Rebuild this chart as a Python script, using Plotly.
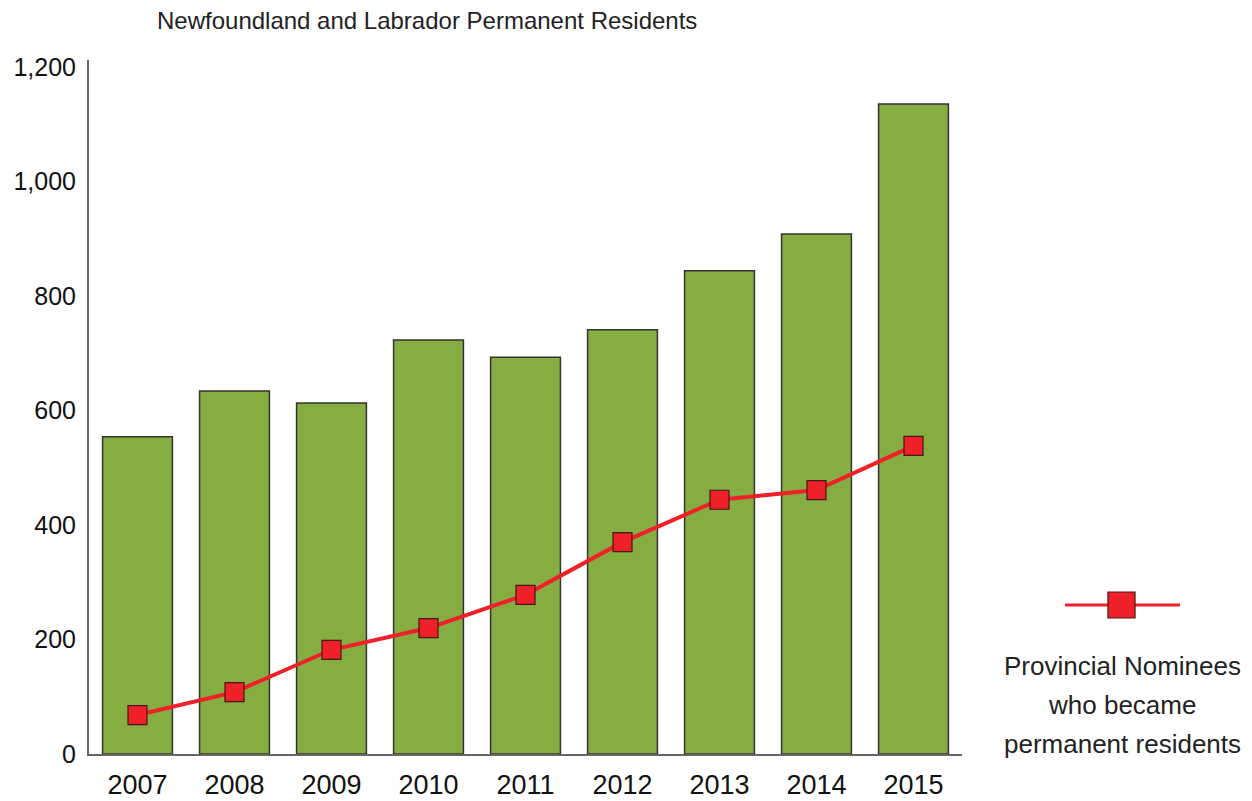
import plotly.graph_objects as go

years = ["2007", "2008", "2009", "2010", "2011", "2012", "2013", "2014", "2015"]
permanent_residents = [554, 634, 613, 723, 693, 741, 844, 908, 1135]
provincial_nominees = [68, 108, 182, 220, 278, 370, 444, 461, 538]
y_ticks = [0, 200, 400, 600, 800, 1000, 1200]
y_tick_labels = ["0", "200", "400", "600", "800", "1,000", "1,200"]
legend_lines = ["Provincial Nominees", "who became", "permanent residents"]

FONT = "Liberation Sans, Arial, sans-serif"
GREEN = "#86AD41"
RED = "#EE2129"

fig = go.Figure()
fig.add_trace(go.Bar(
    x=years, y=permanent_residents, width=0.72,
    marker=dict(color=GREEN, line=dict(color="#333333", width=1.5)),
    showlegend=False, hoverinfo="x+y",
))
fig.add_trace(go.Scatter(
    x=years, y=provincial_nominees, mode="lines+markers",
    line=dict(color=RED, width=4),
    marker=dict(symbol="square", size=19, color=RED, line=dict(color="#4a1515", width=1.2)),
    showlegend=False,
))

# legend drawn manually (symbol above text)
fig.add_shape(type="line", xref="paper", yref="paper",
              x0=1.118, x1=1.2497, y0=0.2147, y1=0.2147,
              line=dict(color=RED, width=3))
fig.add_shape(type="rect", xref="paper", yref="paper",
              x0=1.1672, x1=1.1982, y0=0.196, y1=0.2334,
              fillcolor=RED, line=dict(color="#4a1515", width=1.2))
for txt, yy in zip(legend_lines, [0.1268, 0.0706, 0.0144]):
    fig.add_annotation(xref="paper", yref="paper", x=1.1833, y=yy,
                       xanchor="center", yanchor="middle",
                       text=txt, showarrow=False,
                       font=dict(family=FONT, size=26, color="#222222"))

fig.update_layout(
    width=1244, height=793,
    margin=dict(l=81, r=290, t=52, b=47, autoexpand=False),
    paper_bgcolor="white", plot_bgcolor="white",
    title=dict(text="Newfoundland and Labrador Permanent Residents",
               x=149/1244, xanchor="left", y=1 - 13/793, yanchor="middle",
               font=dict(family=FONT, size=24, color="#222222")),
    font=dict(family=FONT, size=26, color="#111111"),
    xaxis=dict(type="category", range=[-0.5, 8.5], showline=True, linecolor="#666666",
               linewidth=2, ticks="", showgrid=False, zeroline=False, automargin=False,
               ticklabelstandoff=6,
               tickfont=dict(family=FONT, size=27, color="#111111")),
    yaxis=dict(range=[0, 1212], showline=True, linecolor="#666666", linewidth=2,
               ticks="", showgrid=False, zeroline=False, tickvals=y_ticks, automargin=False,
               ticktext=y_tick_labels, ticklabelstandoff=6,
               tickfont=dict(family=FONT, size=25, color="#111111")),
)

fig.write_html("out.html")
